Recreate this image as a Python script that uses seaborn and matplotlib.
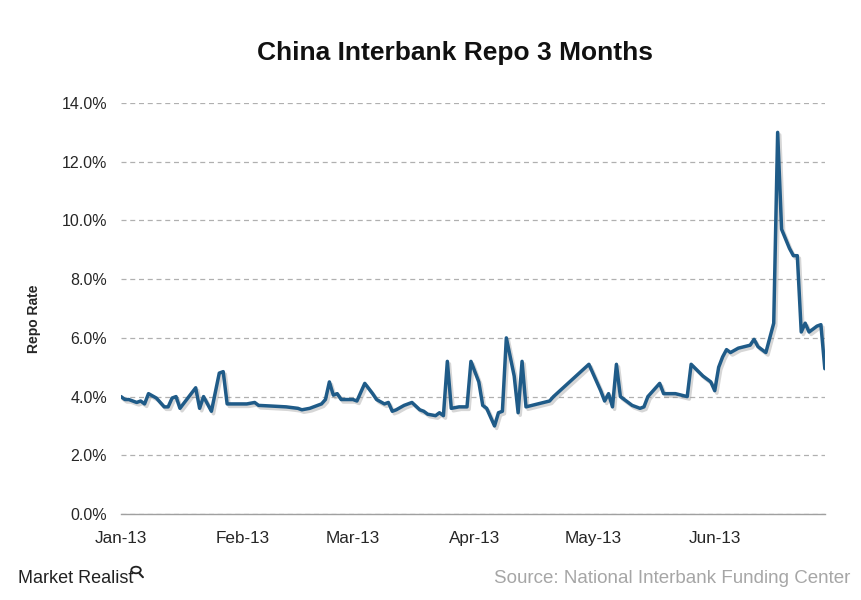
import numpy as np
import pandas as pd
import matplotlib
matplotlib.use("Agg")
import matplotlib.pyplot as plt
import matplotlib.dates as mdates
import matplotlib.patheffects as pe
from matplotlib.lines import Line2D
from matplotlib.patches import Circle
import seaborn as sns

# Repo rate readings (%)
dates = [
    "2013-01-01", "2013-01-02", "2013-01-03", "2013-01-05", "2013-01-06", "2013-01-07",
    "2013-01-08", "2013-01-10", "2013-01-12", "2013-01-13", "2013-01-14", "2013-01-15",
    "2013-01-16", "2013-01-18", "2013-01-20", "2013-01-21", "2013-01-22", "2013-01-24",
    "2013-01-26", "2013-01-27", "2013-01-28", "2013-01-30", "2013-02-02", "2013-02-04",
    "2013-02-05", "2013-02-08", "2013-02-12", "2013-02-15", "2013-02-16", "2013-02-18",
    "2013-02-19", "2013-02-21", "2013-02-22", "2013-02-23", "2013-02-24", "2013-02-25",
    "2013-02-26", "2013-02-28", "2013-03-01", "2013-03-02", "2013-03-04", "2013-03-06",
    "2013-03-07", "2013-03-09", "2013-03-10", "2013-03-11", "2013-03-12", "2013-03-14",
    "2013-03-16", "2013-03-18", "2013-03-19", "2013-03-20", "2013-03-22", "2013-03-23",
    "2013-03-24", "2013-03-25", "2013-03-26", "2013-03-28", "2013-03-30", "2013-03-31",
    "2013-04-02", "2013-04-03", "2013-04-04", "2013-04-06", "2013-04-07", "2013-04-08",
    "2013-04-09", "2013-04-11", "2013-04-12", "2013-04-13", "2013-04-14", "2013-04-17",
    "2013-04-20", "2013-04-21", "2013-04-30", "2013-05-03", "2013-05-04", "2013-05-05",
    "2013-05-06", "2013-05-07", "2013-05-08", "2013-05-11", "2013-05-13", "2013-05-14",
    "2013-05-15", "2013-05-18", "2013-05-19", "2013-05-22", "2013-05-25", "2013-05-26",
    "2013-05-29", "2013-05-31", "2013-06-01", "2013-06-02", "2013-06-03", "2013-06-04",
    "2013-06-05", "2013-06-07", "2013-06-10", "2013-06-11", "2013-06-12", "2013-06-14",
    "2013-06-16", "2013-06-17", "2013-06-18", "2013-06-20", "2013-06-21", "2013-06-22",
    "2013-06-23", "2013-06-24", "2013-06-25", "2013-06-27", "2013-06-28", "2013-06-29",
]
rates = [
    4.00, 3.90, 3.90, 3.80, 3.85, 3.75,
    4.10, 3.95, 3.65, 3.65, 3.95, 4.00,
    3.60, 3.95, 4.30, 3.60, 4.00, 3.50,
    4.80, 4.85, 3.75, 3.75, 3.75, 3.80,
    3.70, 3.68, 3.65, 3.60, 3.55, 3.60,
    3.65, 3.75, 3.90, 4.50, 4.05, 4.10,
    3.90, 3.90, 3.90, 3.85, 4.45, 4.10,
    3.90, 3.75, 3.80, 3.50, 3.55, 3.70,
    3.80, 3.55, 3.50, 3.40, 3.35, 3.45,
    3.35, 5.20, 3.60, 3.65, 3.65, 5.20,
    4.50, 3.70, 3.60, 3.00, 3.45, 3.50,
    6.00, 4.70, 3.45, 5.20, 3.65, 3.75,
    3.85, 4.00, 5.10, 4.20, 3.85, 4.10,
    3.65, 5.10, 4.00, 3.70, 3.60, 3.65,
    4.00, 4.45, 4.10, 4.10, 4.00, 5.10,
    4.70, 4.50, 4.20, 5.00, 5.35, 5.60,
    5.50, 5.65, 5.75, 5.95, 5.70, 5.50,
    6.50, 13.00, 9.70, 9.05, 8.80, 8.80,
    6.20, 6.50, 6.20, 6.40, 6.45, 4.95,
]
month_ticks = ["2013-01-01", "2013-02-01", "2013-03-01", "2013-04-01", "2013-05-01", "2013-06-01"]
y_ticks = [0, 2, 4, 6, 8, 10, 12, 14]

df = pd.DataFrame({"date": pd.to_datetime(dates), "rate": rates})

sns.set_style("white")
plt.rcParams["font.family"] = ["Liberation Sans", "DejaVu Sans"]

fig = plt.figure(figsize=(8.61, 6.0), dpi=100)
ax = fig.add_axes([0.1405, 0.1433, 0.8175, 0.685])

sns.lineplot(data=df, x="date", y="rate", ax=ax, color="#1f5b88", linewidth=2.5,
             path_effects=[pe.SimpleLineShadow(offset=(1.5, -1.8), shadow_color="#8a8a8a", alpha=0.35),
                           pe.Normal()])

ax.set_ylim(0, 14)
ax.set_xlim(pd.Timestamp("2013-01-01"), pd.Timestamp("2013-06-29"))
ax.set_yticks(y_ticks)
ax.set_yticklabels([f"{v:.1f}%" for v in y_ticks], fontsize=11.5)
ax.set_xticks(pd.to_datetime(month_ticks))
ax.xaxis.set_major_formatter(mdates.DateFormatter("%b-%y"))
ax.tick_params(axis="x", labelsize=12.3, length=4, color="#a0a0a0", direction="out", pad=8)
ax.tick_params(axis="y", length=0, pad=10)

ax.yaxis.grid(True, linestyle=(0, (4, 3)), color="#b0b0b0", linewidth=0.9)
ax.xaxis.grid(False)
for side in ["top", "right", "left"]:
    ax.spines[side].set_visible(False)
ax.spines["bottom"].set_color("#a0a0a0")
ax.spines["bottom"].set_linewidth(1.0)
ax.set_axisbelow(True)

ax.set_xlabel("")
ax.set_ylabel("Repo Rate", fontsize=10, fontweight="bold")
ax.yaxis.set_label_coords(-0.113, 0.475)

fig.text(0.528, 0.912, "China Interbank Repo 3 Months", ha="center", va="center",
         fontsize=19, fontweight="bold", color="#111111")

fig.text(0.021, 0.036, "Market Realist", ha="left", va="center", fontsize=13,
         color="#222222", fontstretch="condensed")
# small magnifier mark next to the logo text
fig.add_artist(Circle((0.158, 0.05), 0.0055, transform=fig.transFigure, fill=False,
                      edgecolor="#222222", linewidth=1.3))
fig.add_artist(Line2D([0.162, 0.166], [0.044, 0.038], transform=fig.transFigure,
                      color="#222222", linewidth=1.5))

fig.text(0.988, 0.036, "Source: National Interbank Funding Center", ha="right", va="center",
         fontsize=13.5, color="#a6a6a6")

fig.savefig("out.png", dpi=100)
